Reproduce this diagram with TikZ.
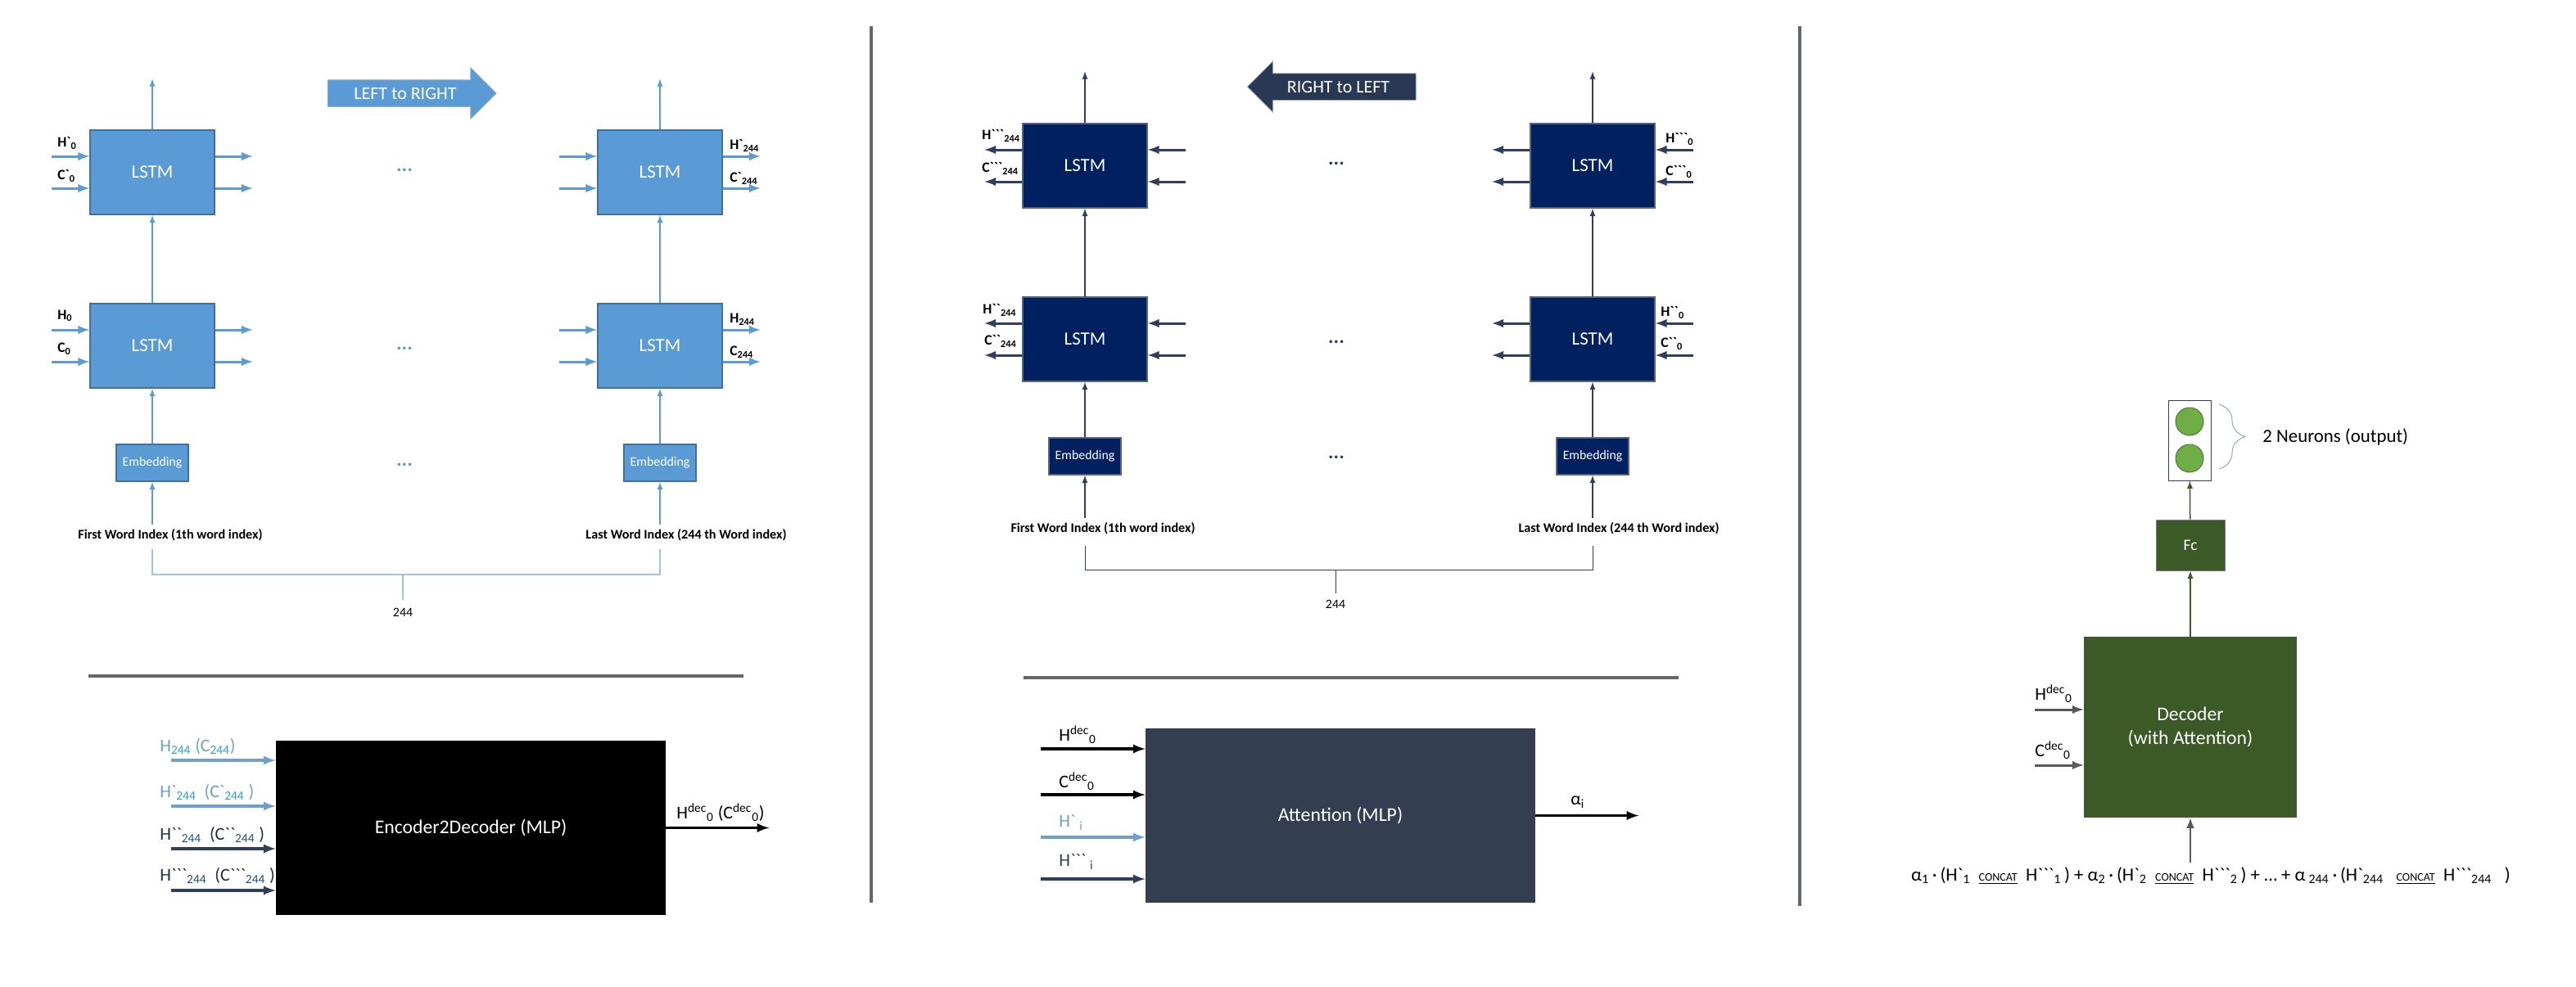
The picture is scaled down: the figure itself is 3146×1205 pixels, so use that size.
\documentclass[tikz,border=0pt]{standalone}
\usepackage{fontspec}
\setmainfont{Carlito}
\usetikzlibrary{positioning,shapes,arrows,decorations.pathreplacing}

\definecolor{lrblue}{HTML}{5B9BD5}
\definecolor{lrline}{HTML}{41719C}
\definecolor{rlnavy}{HTML}{002060}
\definecolor{rlline}{HTML}{2F3E5C}
\definecolor{attgray}{HTML}{333F50}
\definecolor{decgreen}{HTML}{3B5A27}
\definecolor{neurgreen}{HTML}{70AD47}
\definecolor{sepgray}{HTML}{636767}
\definecolor{hblue}{HTML}{6F9FCB}
\definecolor{subblue}{HTML}{2E9BD6}
\definecolor{hnavy}{HTML}{1F2D4A}
\definecolor{subnavy}{HTML}{1F4E79}
\definecolor{bracegray}{HTML}{8EA9C1}

\newcommand{\bq}{\textasciigrave}
\newcommand{\fsz}[1]{\fontsize{#1}{#1}\selectfont}
\newcommand{\sbc}[2]{\textsubscript{\textcolor{#1}{#2}}}

\begin{document}
\begin{tikzpicture}[
	x=0.2mm, y=-0.2mm,
	lstmbox/.style={draw, line width=0.3mm, minimum width=30.4mm, minimum height=20.6mm, text=white, font=\fsz{13}},
	lstmA/.style={lstmbox, fill=lrblue, draw=lrline},
	lstmB/.style={lstmbox, fill=rlnavy, draw=rlline!80},
	embbox/.style={draw, line width=0.3mm, minimum width=17.6mm, minimum height=9mm, text=white, font=\fsz{9}},
	mlpbox/.style={minimum width=95.2mm, minimum height=42.6mm, text=white, font=\fsz{13.5}},
	port/.style={line width=0.6mm, -latex},
	flow/.style={line width=0.3mm, -latex},
	plbl/.style={font=\bfseries\fsz{10}, inner sep=0pt, anchor=west},
	inlbl/.style={font=\fsz{12.5}, inner sep=0pt, anchor=west},
	dots/.style={font=\bfseries\fsz{14}},
	wordlbl/.style={font=\bfseries\fsz{9.2}},
	sep/.style={line width=0.8mm, sepgray},
	dirarrow/.style={single arrow, single arrow head extend=3mm, minimum height=41.2mm, inner ysep=0pt, inner xsep=2mm, text height=4.6mm, text depth=1.8mm, text=white, font=\fsz{12.5}}
	]

	\useasboundingbox (0,0) rectangle (3146,1205);

	% separators
	\draw[sep] (1064,32) -- (1064,1103);
	\draw[sep] (2198,32) -- (2198,1107);
	\draw[sep] (108,826) -- (908,826);
	\draw[sep] (1250,828) -- (2050,828);

	%%%% left to right encoder
	\node[dirarrow, fill=lrblue, draw=lrline!60] (l2r) at (495,114) {LEFT to RIGHT};

	\node[lstmA] (lstm1t) at (186,210.5) {LSTM};
	\node[lstmA] (lstm2t) at (806,210.5) {LSTM};
	\node[lstmA] (lstm1b) at (186,422.5) {LSTM};
	\node[lstmA] (lstm2b) at (806,422.5) {LSTM};
	\node[embbox, fill=lrblue, draw=lrline] (emb1) at (186,565.5) {Embedding};
	\node[embbox, fill=lrblue, draw=lrline] (emb2) at (806,565.5) {Embedding};
	\node[wordlbl] (word1) at (208,654) {First Word Index (1th word index)};
	\node[wordlbl] (word2) at (838,654) {Last Word Index (244 th Word index)};

	\node[dots, lrblue] (dots1) at (494,208) {...};
	\node[dots, lrblue] (dots2) at (494,426) {...};
	\node[dots, lrblue] (dots3) at (494,568) {...};

	\node[plbl] (hl1) at (70,175) {H\bq\textsubscript{0}};
	\node[plbl] (cl1) at (70,215) {C\bq\textsubscript{0}};
	\node[plbl] (hl2) at (70,386) {H\textsubscript{0}};
	\node[plbl] (cl2) at (70,426) {C\textsubscript{0}};
	\node[plbl] (hr1) at (891,178) {H\bq\textsubscript{244}};
	\node[plbl] (cr1) at (891,218) {C\bq\textsubscript{244}};
	\node[plbl] (hr2) at (891,390) {H\textsubscript{244}};
	\node[plbl] (cr2) at (891,430) {C\textsubscript{244}};

	\foreach \b in {lstm1t,lstm1b,lstm2t,lstm2b}
		\foreach \s in {3.9mm,-3.9mm}{
			\draw[port, lrblue] ([xshift=-9.2mm,yshift=\s]\b.west) -- ([yshift=\s]\b.west);
			\draw[port, lrblue] ([yshift=\s]\b.east) -- ([xshift=9.2mm,yshift=\s]\b.east);
		}
	\foreach \b in {lstm1t,lstm2t}
		\draw[flow, lrblue] (\b.north) -- ([yshift=12.4mm]\b.north);

	\path[flow, lrblue] (lstm1b) edge (lstm1t)
	(lstm2b) edge (lstm2t)
	(emb1) edge (lstm1b)
	(emb2) edge (lstm2b)
	(word1.north -| emb1) edge (emb1)
	(word2.north -| emb2) edge (emb2);

	\draw[line width=0.3mm, lrblue!60] (186,671) -- (186,702) -- (806,702) -- (806,671)
	(492,702) -- (492,733);
	\node[font=\fsz{9}] (len1) at (492,748) {244};

	% encoder to decoder
	\node[mlpbox, fill=black] (enc) at (575,1011.5) {Encoder2Decoder (MLP)};
	\draw[port, line width=0.65mm, hblue] ([xshift=-25.6mm,yshift=16.5mm]enc.west) -- ([yshift=16.5mm]enc.west);
	\draw[port, line width=0.65mm, hblue] ([xshift=-25.6mm,yshift=5.3mm]enc.west) -- ([yshift=5.3mm]enc.west);
	\draw[port, line width=0.65mm, rlline] ([xshift=-25.6mm,yshift=-5.1mm]enc.west) -- ([yshift=-5.1mm]enc.west);
	\draw[port, line width=0.65mm, rlline] ([xshift=-25.6mm,yshift=-15.3mm]enc.west) -- ([yshift=-15.3mm]enc.west);
	\draw[port, line width=0.65mm, black] (enc.east) -- ([xshift=25.2mm]enc.east);

	\node[inlbl, text=hblue] (ein1) at (195,912) {H\sbc{subblue}{244} (C\sbc{subblue}{244})};
	\node[inlbl, text=hblue] (ein2) at (195,968) {H\bq\sbc{subblue}{244}\ \ (C\bq\sbc{subblue}{244}\ )};
	\node[inlbl, text=hnavy] (ein3) at (195,1020) {H\bq\bq\sbc{subnavy}{244}\ \ (C\bq\bq\sbc{subnavy}{244}\ )};
	\node[inlbl, text=hnavy] (ein4) at (195,1070) {H\bq\bq\bq\sbc{subnavy}{244}\ \ (C\bq\bq\bq\sbc{subnavy}{244}\ )};
	\node[inlbl] (eout) at (826,993) {H\textsuperscript{dec}\textsubscript{0} (C\textsuperscript{dec}\textsubscript{0})};

	%%%% right to left encoder
	\node[dirarrow, fill=rlline!90!black, draw=lrline!50, shape border rotate=180] (r2l) at (1634.5,106) {RIGHT to LEFT};

	\node[lstmB] (lstm3t) at (1325,202.5) {LSTM};
	\node[lstmB] (lstm4t) at (1945,202.5) {LSTM};
	\node[lstmB] (lstm3b) at (1325,414.5) {LSTM};
	\node[lstmB] (lstm4b) at (1945,414.5) {LSTM};
	\node[embbox, fill=rlnavy, draw=rlline!80] (emb3) at (1325,557.5) {Embedding};
	\node[embbox, fill=rlnavy, draw=rlline!80] (emb4) at (1945,557.5) {Embedding};
	\node[wordlbl] (word3) at (1347,646) {First Word Index (1th word index)};
	\node[wordlbl] (word4) at (1977,646) {Last Word Index (244 th Word index)};

	\node[dots, rlline] (dots4) at (1632,200) {...};
	\node[dots, rlline] (dots5) at (1632,418) {...};
	\node[dots, rlline] (dots6) at (1632,559) {...};

	\node[plbl] (hl3) at (1199,166) {H\bq\bq\bq\textsubscript{244}};
	\node[plbl] (cl3) at (1199,206) {C\bq\bq\bq\textsubscript{244}};
	\node[plbl] (hl4) at (1200,379) {H\bq\bq\textsubscript{244}};
	\node[plbl] (cl4) at (1202,417) {C\bq\bq\textsubscript{244}};
	\node[plbl] (hr3) at (2034,170) {H\bq\bq\bq\textsubscript{0}};
	\node[plbl] (cr3) at (2034,210) {C\bq\bq\bq\textsubscript{0}};
	\node[plbl] (hr4) at (2028,382) {H\bq\bq\textsubscript{0}};
	\node[plbl] (cr4) at (2028,420) {C\bq\bq\textsubscript{0}};

	\foreach \b in {lstm3t,lstm3b,lstm4t,lstm4b}
		\foreach \s in {3.9mm,-3.9mm}{
			\draw[port, rlline] ([yshift=\s]\b.west) -- ([xshift=-9.2mm,yshift=\s]\b.west);
			\draw[port, rlline] ([xshift=9.2mm,yshift=\s]\b.east) -- ([yshift=\s]\b.east);
		}
	\foreach \b in {lstm3t,lstm4t}
		\draw[flow, rlline] (\b.north) -- ([yshift=12.6mm]\b.north);

	\path[flow, rlline] (lstm3b) edge (lstm3t)
	(lstm4b) edge (lstm4t)
	(emb3) edge (lstm3b)
	(emb4) edge (lstm4b)
	(word3.north -| emb3) edge (emb3)
	(word4.north -| emb4) edge (emb4);

	\draw[line width=0.2mm, rlline] (1325,667) -- (1325,696) -- (1945,696) -- (1945,667)
	(1631,696) -- (1631,725);
	\node[font=\fsz{9}] (len2) at (1631,738) {244};

	% attention
	\node[mlpbox, fill=attgray] (att) at (1637,996.5) {Attention (MLP)};
	\draw[port, line width=0.65mm, black] ([xshift=-25.6mm,yshift=16.3mm]att.west) -- ([yshift=16.3mm]att.west);
	\draw[port, line width=0.65mm, black] ([xshift=-25.6mm,yshift=5.1mm]att.west) -- ([yshift=5.1mm]att.west);
	\draw[port, line width=0.65mm, hblue] ([xshift=-25.6mm,yshift=-5.3mm]att.west) -- ([yshift=-5.3mm]att.west);
	\draw[port, line width=0.65mm, rlline] ([xshift=-25.6mm,yshift=-15.5mm]att.west) -- ([yshift=-15.5mm]att.west);
	\draw[port, line width=0.65mm, black] (att.east) -- ([xshift=25.2mm]att.east);

	\node[inlbl] (ain1) at (1293,898) {H\textsuperscript{dec}\textsubscript{0}};
	\node[inlbl] (ain2) at (1293,955) {C\textsuperscript{dec}\textsubscript{0}};
	\node[inlbl, text=hblue] (ain3) at (1293,1005) {H\bq\ \textsubscript{i}};
	\node[inlbl, text=attgray] (ain4) at (1293,1053) {H\bq\bq\bq\ \textsubscript{i}};
	\node[inlbl] (aout) at (1918,980) {α\textsubscript{i}};

	%%%% decoder
	\node[draw=attgray, line width=0.2mm, minimum width=10.4mm, minimum height=19.6mm] (outl) at (2674,538) {};
	\node[circle, fill=neurgreen, draw=neurgreen!70!black, line width=0.2mm, minimum size=6.8mm] (n1) at (2674,515) {};
	\node[circle, fill=neurgreen, draw=neurgreen!70!black, line width=0.2mm, minimum size=6.8mm] (n2) at (2674,560) {};
	\draw[decorate, decoration={brace, amplitude=6.4mm}, line width=0.2mm, bracegray] (2710,494) -- (2710,573);
	\node[inlbl, font=\fsz{13}] (nlbl) at (2763,534) {2 Neurons (output)};

	\node[fill=decgreen, draw=attgray!70, line width=0.2mm, minimum width=16.8mm, minimum height=12.4mm, text=white, font=\fsz{11}] (fc) at (2675,666) {Fc};
	\node[fill=decgreen, minimum width=52mm, minimum height=44.2mm, text=white, font=\fontsize{13.5}{16.5}\selectfont, align=center] (dec) at (2675,888.5) {Decoder\\(with Attention)};

	\node[font=\fsz{13}] (sum) at (2700,1070) {α\textsubscript{1}\,·\,(H\bq\textsubscript{1}\ \ \underline{\fsz{8}CONCAT}\ \ H\bq\bq\bq\textsubscript{1}\,) + α\textsubscript{2}\,·\,(H\bq\textsubscript{2}\ \ \underline{\fsz{8}CONCAT}\ \ H\bq\bq\bq\textsubscript{2}\,) + … + α\,\textsubscript{244}\,·\,(H\bq\textsubscript{244}\ \ \ \underline{\fsz{8}CONCAT}\ \ H\bq\bq\bq\textsubscript{244}\ \ \ )};

	\draw[port, line width=0.6mm, black!65] ([xshift=-12mm,yshift=4.3mm]dec.west) -- ([yshift=4.3mm]dec.west);
	\draw[port, line width=0.6mm, black!65] ([xshift=-12mm,yshift=-9.3mm]dec.west) -- ([yshift=-9.3mm]dec.west);
	\node[inlbl] (din1) at (2485,848) {H\textsuperscript{dec}\textsubscript{0}};
	\node[inlbl] (din2) at (2485,917) {C\textsuperscript{dec}\textsubscript{0}};

	\path[flow, decgreen] (fc) edge (outl)
	(dec) edge (fc);
	\path[flow, line width=0.5mm, black!65] (sum.north -| dec) edge (dec);

\end{tikzpicture}
\end{document}
